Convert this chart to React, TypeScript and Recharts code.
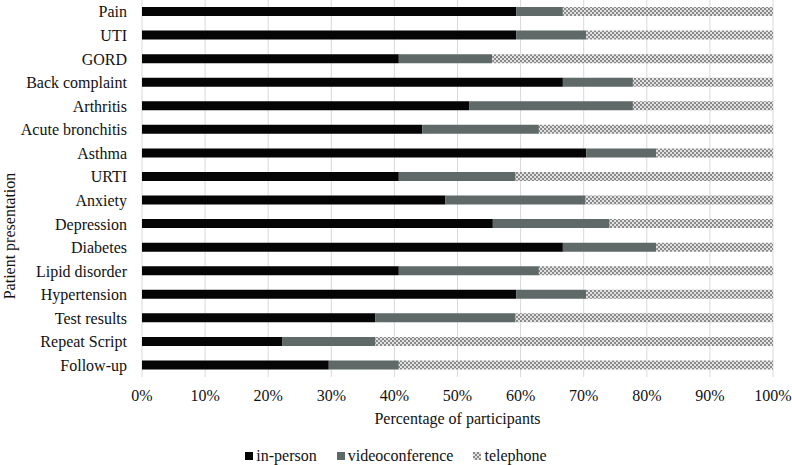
import React from 'react';
import { BarChart, Bar, XAxis, YAxis, CartesianGrid, Legend } from 'recharts';

const categories = ['Pain', 'UTI', 'GORD', 'Back complaint', 'Arthritis', 'Acute bronchitis', 'Asthma', 'URTI', 'Anxiety', 'Depression', 'Diabetes', 'Lipid disorder', 'Hypertension', 'Test results', 'Repeat Script', 'Follow-up'];
const inPerson = [59.3, 59.3, 40.7, 66.7, 51.9, 44.4, 70.4, 40.7, 48.1, 55.6, 66.7, 40.7, 59.3, 37.0, 22.2, 29.6];
const videoconference = [7.4, 11.1, 14.8, 11.1, 25.9, 18.5, 11.1, 18.5, 22.2, 18.5, 14.8, 22.2, 11.1, 22.2, 14.8, 11.1];
const telephone = [33.3, 29.6, 44.5, 22.2, 22.2, 37.1, 18.5, 40.8, 29.7, 25.9, 18.5, 37.1, 29.6, 40.8, 63.0, 59.3];
const xTicks = [0, 10, 20, 30, 40, 50, 60, 70, 80, 90, 100];
const seriesNames = ['in-person', 'videoconference', 'telephone'];

const data = categories.map((c, i) => ({
  name: c,
  inPerson: inPerson[i],
  video: videoconference[i],
  phone: telephone[i],
}));

const FONT = '"Liberation Serif", "Times New Roman", serif';
const TEXT = '#111';
const C_IN = '#050505';
const C_VIDEO = '#5e6968';

const PatternDef = ({ id }: { id: string }) => (
  <pattern id={id} patternUnits="userSpaceOnUse" width={4} height={4}>
    <rect x={0} y={0} width={4} height={4} fill="#e2e2e2" />
    <rect x={0} y={0} width={2} height={2} fill="#8a8a8a" />
    <rect x={2} y={2} width={2} height={2} fill="#8a8a8a" />
  </pattern>
);

const renderLegend = () => {
  const items = [
    { name: seriesNames[0], fill: C_IN },
    { name: seriesNames[1], fill: C_VIDEO },
    { name: seriesNames[2], fill: 'url(#phoneLegend)' },
  ];
  return (
    <div style={{ width: 792, height: 30, display: 'flex', justifyContent: 'center', alignItems: 'flex-start', paddingTop: 13, boxSizing: 'border-box', fontFamily: FONT, fontSize: 16, color: TEXT, lineHeight: '16px' }}>
      {items.map((it, i) => (
        <div key={it.name} style={{ display: 'flex', alignItems: 'center', marginLeft: i === 0 ? 0 : 20 }}>
          <svg width={8} height={8} style={{ marginRight: 3 }}>
            <defs>
              <PatternDef id="phoneLegend" />
            </defs>
            <rect x={0} y={0} width={8} height={8} fill={it.fill} />
          </svg>
          <span>{it.name}</span>
        </div>
      ))}
    </div>
  );
};

export default function App() {
  return (
    <div style={{ position: 'absolute', left: 0, top: 0, width: 792, height: 465, background: '#fff' }}>
      <BarChart
        width={792}
        height={465}
        data={data}
        layout="vertical"
        margin={{ top: 0, right: 19, left: 0, bottom: 0 }}
        barSize={9}
      >
        <defs>
          <PatternDef id="phonePattern" />
        </defs>
        <CartesianGrid horizontal={false} vertical stroke="#d9d9d9" />
        <XAxis
          type="number"
          domain={[0, 100]}
          allowDataOverflow
          ticks={xTicks}
          tickFormatter={(v: number) => `${v}%`}
          axisLine={false}
          tickLine={false}
          tickSize={0}
          tickMargin={13}
          height={58}
          tick={{ fontFamily: FONT, fontSize: 16, fill: TEXT }}
          label={{
            content: (props: any) => {
              const vb = props.viewBox || {};
              return (
                <text x={vb.x + vb.width / 2} y={vb.y + 47} textAnchor="middle" fontFamily={FONT} fontSize={16} fill={TEXT}>
                  Percentage of participants
                </text>
              );
            },
          }}
        />
        <YAxis
          type="category"
          dataKey="name"
          width={142}
          axisLine={false}
          tickLine={false}
          tickSize={0}
          tickMargin={15}
          interval={0}
          tick={{ fontFamily: FONT, fontSize: 16, fill: TEXT }}
          label={{
            content: () => (
              <text x={9} y={236} transform="rotate(-90 9 236)" textAnchor="middle" dominantBaseline="central" fontFamily={FONT} fontSize={16} fill={TEXT}>
                Patient presentation
              </text>
            ),
          }}
        />
        <Legend verticalAlign="bottom" height={30} content={renderLegend} wrapperStyle={{ left: 0, width: 792 }} />
        <Bar dataKey="inPerson" name={seriesNames[0]} stackId="a" fill={C_IN} isAnimationActive={false} />
        <Bar dataKey="video" name={seriesNames[1]} stackId="a" fill={C_VIDEO} isAnimationActive={false} />
        <Bar dataKey="phone" name={seriesNames[2]} stackId="a" fill="url(#phonePattern)" isAnimationActive={false} />
      </BarChart>
    </div>
  );
}
